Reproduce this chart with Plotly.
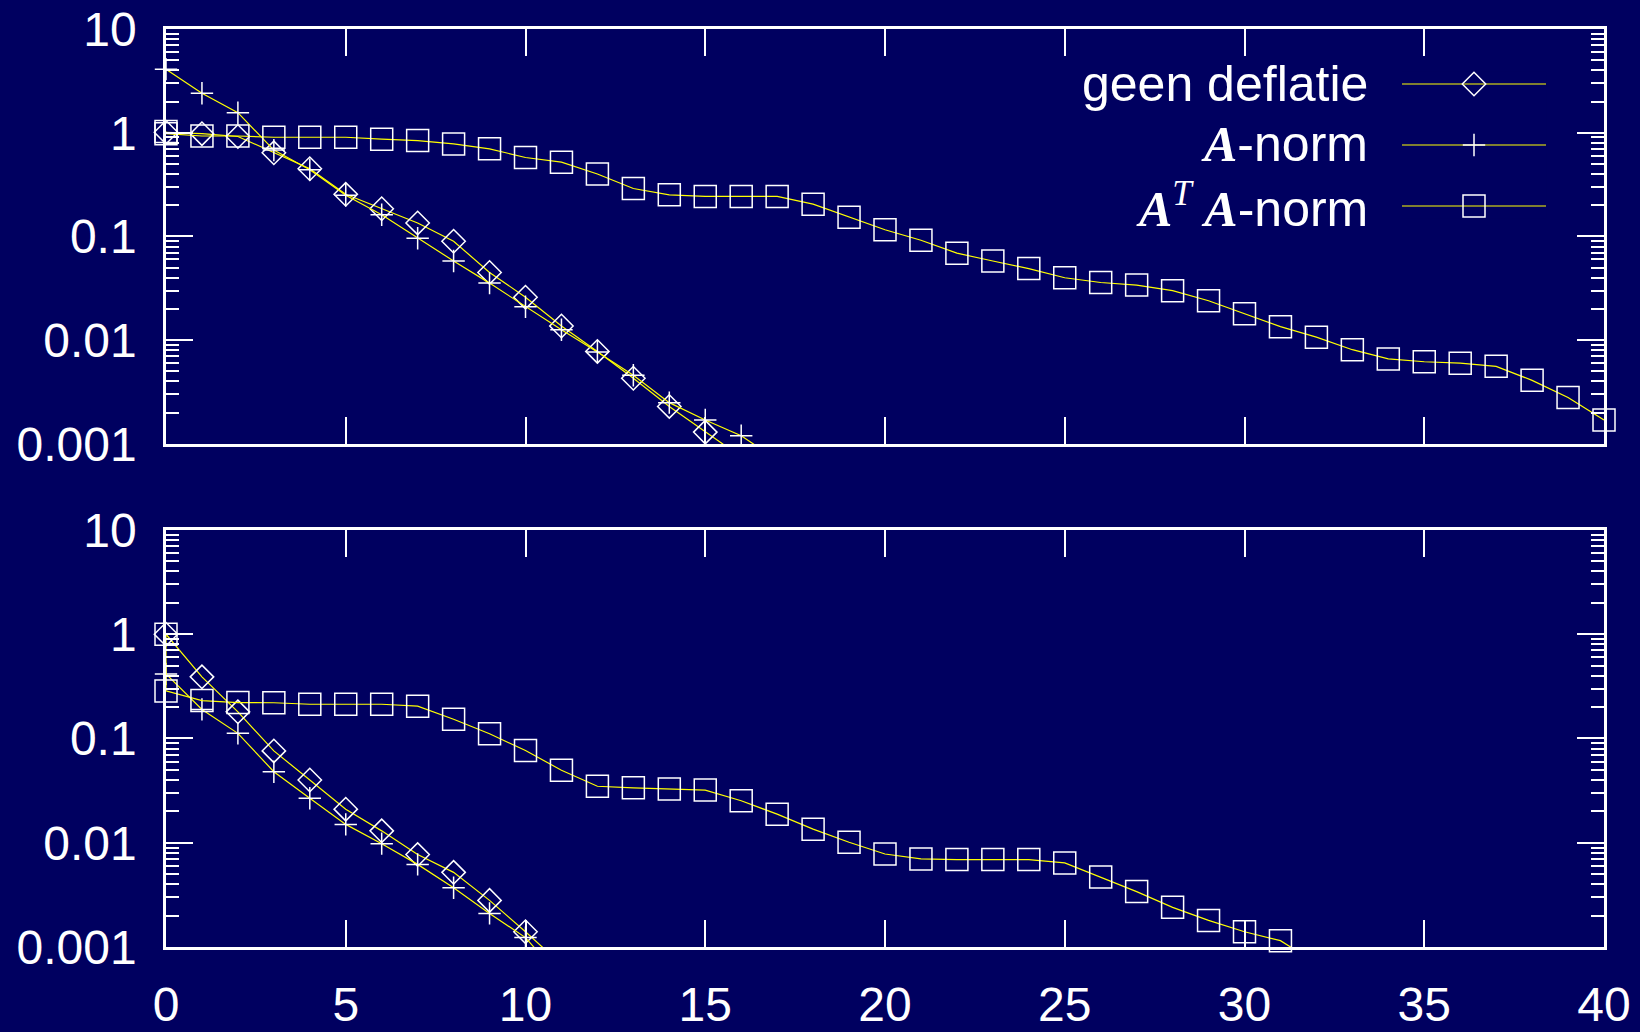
import numpy as np
import plotly.graph_objects as go

# ---------------- data ----------------
# top panel
top_geen_x = list(range(0, 17))
top_geen_y = [1.01, 0.98, 0.92, 0.64, 0.45, 0.255, 0.185, 0.135, 0.090, 0.045,
              0.026, 0.0137, 0.0078, 0.0043, 0.0023, 0.0013, 0.00075]
top_anorm_x = list(range(0, 18))
top_anorm_y = [4.1, 2.4, 1.56, 0.68, 0.44, 0.25, 0.162, 0.096, 0.058, 0.0355,
               0.021, 0.0126, 0.0077, 0.0046, 0.0025, 0.0017, 0.0012, 0.0007]
top_ata_x = [0] + list(range(0, 41))
top_ata_y = [1.03, 0.98, 0.93, 0.93, 0.905, 0.905, 0.905, 0.866, 0.84, 0.78, 0.70,
             0.577, 0.52, 0.40, 0.29, 0.252, 0.243, 0.243, 0.243, 0.205, 0.153,
             0.116, 0.092, 0.069, 0.058, 0.049, 0.040, 0.036, 0.034, 0.030, 0.024,
             0.018, 0.0135, 0.0107, 0.0081, 0.0066, 0.0062, 0.0060, 0.0056, 0.0041,
             0.0028, 0.0017]
# bottom panel
bot_geen_x = list(range(0, 12))
bot_geen_y = [1.0, 0.39, 0.18, 0.076, 0.040, 0.021, 0.013, 0.0077, 0.0052, 0.0028,
              0.0014, 0.00068]
bot_anorm_x = list(range(0, 12))
bot_anorm_y = [0.415, 0.19, 0.112, 0.048, 0.0267, 0.015, 0.0098, 0.0062, 0.0037,
               0.0021, 0.00123, 0.0005]
bot_ata_x = [0] + list(range(0, 33))
bot_ata_y = [1.0, 0.286, 0.231, 0.221, 0.22, 0.213, 0.213, 0.213, 0.204, 0.153, 0.111,
             0.0766, 0.0496, 0.0348, 0.0336, 0.0328, 0.032, 0.0253, 0.0188, 0.0135,
             0.0101, 0.0078, 0.0070, 0.0069, 0.0069, 0.0069, 0.0064, 0.0047, 0.0034,
             0.0024, 0.0018, 0.0014, 0.00115, 0.0007]

x_ticks = [0, 5, 10, 15, 20, 25, 30, 35, 40]
y_ticks = [10, 1, 0.1, 0.01, 0.001]
y_ticktext = ["10", "1", "0.1", "0.01", "0.001"]
legend_labels = [
    "geen deflatie",
    "<span style=\"font-family:'Liberation Serif'\"><b><i>A</i></b></span>-norm",
    "<span style=\"font-family:'Liberation Serif'\"><b><i>A</i></b><sup><i>T</i></sup> <b><i>A</i></b></span>-norm",
]
# --------------------------------------

BG = "#000060"
LINE = "#ffff00"
MK = "white"
FONT = "Liberation Sans"

symbols = ["diamond-open", "cross-thin-open", "square-open"]
sizes = [18, 16, 22]

fig = go.Figure()

panels = [
    ("x", "y", [(top_geen_x, top_geen_y), (top_anorm_x, top_anorm_y), (top_ata_x, top_ata_y)]),
    ("x2", "y2", [(bot_geen_x, bot_geen_y), (bot_anorm_x, bot_anorm_y), (bot_ata_x, bot_ata_y)]),
]

for xa, ya, series in panels:
    for (xs, ys), sym, sz in zip(series, symbols, sizes):
        xs = np.array(xs, dtype=float)
        ys = np.array(ys, dtype=float)
        fig.add_trace(go.Scatter(x=xs, y=ys, mode="lines", xaxis=xa, yaxis=ya,
                                 line=dict(color=LINE, width=1.2), hoverinfo="skip",
                                 showlegend=False))
        m = ys >= 0.001
        fig.add_trace(go.Scatter(x=xs[m], y=ys[m], mode="markers", xaxis=xa, yaxis=ya,
                                 marker=dict(symbol=sym, size=sz, color=MK,
                                             line=dict(color=MK, width=1.5)),
                                 cliponaxis=False, showlegend=False))

# legend samples on a hidden overlay axis
leg_rows = [1.0, 0.5, 0.0]
for row, sym, sz in zip(leg_rows, symbols, sizes):
    fig.add_trace(go.Scatter(x=[0, 1], y=[row, row], mode="lines", xaxis="x3", yaxis="y3",
                             line=dict(color=LINE, width=1.2), showlegend=False,
                             hoverinfo="skip"))
    fig.add_trace(go.Scatter(x=[0.5], y=[row], mode="markers", xaxis="x3", yaxis="y3",
                             marker=dict(symbol=sym, size=sz, color=MK,
                                         line=dict(color=MK, width=1.5)),
                             cliponaxis=False, showlegend=False, hoverinfo="skip"))

minor_vals = [m * 10.0 ** k for k in range(-3, 1) for m in range(2, 10)]

def yaxis_cfg(domain, anchor):
    return dict(type="log", range=[-3, 1], domain=domain, anchor=anchor,
                tickmode="array", tickvals=y_ticks, ticktext=y_ticktext,
                ticks="inside", ticklen=27, tickwidth=2, tickcolor="white",
                showline=True, linecolor="white", linewidth=2.5, mirror="allticks",
                showgrid=False, zeroline=False, ticklabelstandoff=17, automargin=False,
                tickfont=dict(family=FONT, size=48, color="white"),
                minor=dict(tickmode="array", tickvals=minor_vals, ticks="inside",
                           ticklen=13, tickwidth=2, tickcolor="white", showgrid=False))

def xaxis_cfg(anchor, labels):
    return dict(range=[0, 40], domain=[0, 1], anchor=anchor,
                tickmode="array", tickvals=x_ticks, showticklabels=labels,
                ticks="inside", ticklen=27, tickwidth=2, tickcolor="white",
                showline=True, linecolor="white", linewidth=2.5, mirror="allticks",
                showgrid=False, zeroline=False, ticklabelstandoff=14, automargin=False,
                tickfont=dict(family=FONT, size=48, color="white"))

fig.update_layout(
    width=1640, height=1032,
    margin=dict(l=166, r=36, t=29, b=85, autoexpand=False),
    paper_bgcolor=BG, plot_bgcolor=BG,
    showlegend=False,
    xaxis=xaxis_cfg("y", False),
    yaxis=yaxis_cfg([0.548, 1.0], "x"),
    xaxis2=xaxis_cfg("y2", True),
    yaxis2=yaxis_cfg([0.0, 0.4543], "x2"),
    xaxis3=dict(domain=[0.8595, 0.9597], range=[0, 1], visible=False, anchor="y3"),
    yaxis3=dict(domain=[0.7939, 0.9534], range=[-0.1, 1.1], visible=False, anchor="x3"),
)

leg_y_paper = [0.9401, 0.8747, 0.8072]
for txt, yp in zip(legend_labels, leg_y_paper):
    fig.add_annotation(x=0.8373, y=yp, xref="paper", yref="paper", text=txt,
                       showarrow=False, xanchor="right", yanchor="middle",
                       font=dict(family=FONT, size=50, color="white"))

fig.write_html(
    "out.html",
    config={"displayModeBar": False},
    post_script="document.body.style.margin='0';document.body.style.overflow='hidden';"
                "document.body.style.background='#000060';",
)
